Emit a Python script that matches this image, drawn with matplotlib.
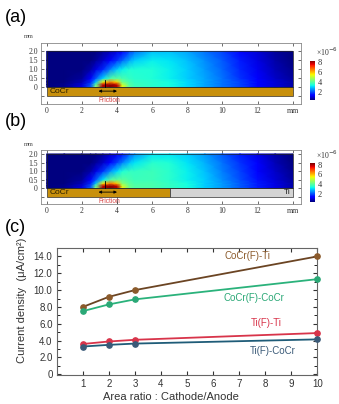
import numpy as np
import matplotlib.pyplot as plt
from matplotlib.patches import Rectangle

W, H = 339, 404

# field maps (a) and (b): current density (x1e-6)
grid_x = [0, 1, 2, 2.5, 2.8, 3.2, 3.6, 4.0, 4.3, 4.7, 5, 6, 7, 8, 9, 10, 11, 12, 13, 14]
grid_y = [0, 0.15, 0.3, 0.5, 1.0, 1.5, 2.0]

field_a = [
    [0.3, 0.4, 1.0, 2.0, 4.5, 8.0, 8.3, 8.0, 5.5, 4.0, 3.7, 3.5, 3.3, 3.0, 2.6, 2.2, 1.8, 1.3, 0.9, 0.6],
    [0.3, 0.4, 0.9, 1.9, 4.0, 7.8, 8.2, 7.8, 5.0, 3.9, 3.7, 3.5, 3.3, 3.0, 2.6, 2.2, 1.8, 1.3, 0.9, 0.6],
    [0.3, 0.3, 0.7, 1.6, 2.8, 5.5, 6.5, 5.8, 4.2, 3.8, 3.6, 3.5, 3.3, 3.0, 2.6, 2.2, 1.8, 1.3, 0.9, 0.6],
    [0.2, 0.3, 0.5, 1.2, 2.0, 3.0, 3.8, 4.0, 3.8, 3.6, 3.5, 3.4, 3.2, 2.9, 2.6, 2.2, 1.7, 1.2, 0.8, 0.5],
    [0.2, 0.2, 0.3, 0.6, 1.0, 1.6, 2.3, 2.9, 3.2, 3.4, 3.4, 3.4, 3.2, 2.9, 2.5, 2.1, 1.6, 1.1, 0.7, 0.4],
    [0.2, 0.2, 0.2, 0.3, 0.5, 0.8, 1.2, 1.7, 2.1, 2.6, 2.9, 3.2, 3.1, 2.8, 2.4, 2.0, 1.5, 1.0, 0.6, 0.3],
    [0.2, 0.2, 0.2, 0.2, 0.3, 0.5, 0.7, 1.0, 1.3, 1.8, 2.2, 2.8, 2.8, 2.6, 2.2, 1.8, 1.3, 0.9, 0.5, 0.3],
]
field_b = [
    [0.3, 0.4, 1.0, 2.0, 4.5, 8.0, 8.3, 8.0, 5.6, 4.2, 3.9, 3.8, 3.6, 3.3, 2.9, 2.5, 2.0, 1.5, 1.0, 0.6],
    [0.3, 0.4, 0.9, 1.9, 4.0, 7.8, 8.2, 7.8, 5.1, 4.1, 3.9, 3.8, 3.6, 3.3, 2.9, 2.5, 2.0, 1.5, 1.0, 0.6],
    [0.3, 0.3, 0.7, 1.6, 2.8, 5.6, 6.6, 5.9, 4.4, 4.0, 3.8, 3.8, 3.6, 3.3, 2.9, 2.5, 2.0, 1.5, 1.0, 0.6],
    [0.2, 0.3, 0.5, 1.2, 2.0, 3.1, 3.9, 4.1, 4.0, 3.8, 3.7, 3.7, 3.5, 3.2, 2.9, 2.4, 1.9, 1.4, 0.9, 0.5],
    [0.2, 0.2, 0.3, 0.6, 1.0, 1.7, 2.4, 3.0, 3.4, 3.6, 3.6, 3.7, 3.5, 3.2, 2.8, 2.3, 1.8, 1.3, 0.8, 0.4],
    [0.2, 0.2, 0.2, 0.3, 0.5, 0.8, 1.3, 1.8, 2.3, 2.8, 3.1, 3.5, 3.4, 3.1, 2.7, 2.2, 1.7, 1.2, 0.7, 0.3],
    [0.2, 0.2, 0.2, 0.2, 0.3, 0.5, 0.8, 1.1, 1.4, 2.0, 2.4, 3.1, 3.1, 2.9, 2.5, 2.0, 1.5, 1.0, 0.6, 0.3],
]

# substrate strips: name, start mm, end mm, colour
strip_a = [("CoCr", 0, 14, "#c8900c")]
strip_b = [("CoCr", 0, 7, "#c8900c"), ("Ti", 7, 14, "#d4d4d4")]

x_ticks_mm = [0, 2, 4, 6, 8, 10, 12, 14]
x_tick_labels_mm = ["0", "2", "4", "6", "8", "10", "12", "mm"]
y_ticks_mm = [-0.5, 0, 0.5, 1.0, 1.5, 2.0]
y_tick_labels_mm = ["", "0", "0.5", "1.0", "1.5", "2.0"]

# line chart (c)
area_ratio = [1, 2, 3, 10]
cocr_ti = [8.0, 9.2, 10.0, 14.0]
cocr_cocr = [7.5, 8.3, 8.9, 11.3]
ti_ti = [3.6, 3.9, 4.1, 4.9]
ti_cocr = [3.3, 3.5, 3.65, 4.15]


def box(l, t, r, b):
    return [l / W, 1 - b / H, (r - l) / W, (b - t) / H]


fig = plt.figure(figsize=(W / 100, H / 100), dpi=100)
serif = "Liberation Serif"
sans = "Liberation Sans"


def field_panel(axbox, cbbox, z, strips, ylim, mm_y, cb_title_y):
    ax = fig.add_axes(box(*axbox))
    mesh = ax.pcolormesh(grid_x, grid_y, np.array(z), shading="gouraud",
                         cmap="jet", vmin=0.3, vmax=8.3)
    ax.plot([0, 14, 14, 0, 0], [0, 0, 2, 2, 0], color="#222222", lw=0.5)
    for name, x0, x1, c in strips:
        ax.add_patch(Rectangle((x0, -0.5), x1 - x0, 0.5, facecolor=c,
                               edgecolor="#333333", lw=0.5))
        if name == "CoCr":
            ax.text(x0 + 0.15, -0.25, name, fontsize=6, family=sans,
                    color="#2a2000", ha="left", va="center")
        else:
            ax.text(x1 - 0.1, -0.25, name, fontsize=6, family=sans,
                    color="#222222", ha="right", va="center")
    ax.annotate("", xy=(2.95, -0.22), xytext=(4.0, -0.22),
                arrowprops=dict(arrowstyle="<|-|>", color="k", lw=0.6,
                                mutation_scale=4, shrinkA=0, shrinkB=0))
    ax.plot([3.3, 3.3], [0, 0.4], color="k", lw=0.6)
    ax.plot([4.0, 4.0], [-0.5, ylim[0]], color="#444444", lw=0.5)
    ax.text(3.55, -0.75, "Friction", color="#d84848", fontsize=4.8,
            family=sans, ha="center", va="center")
    ax.set_xlim(-0.34, 14.47)
    ax.set_ylim(*ylim)
    ax.set_xticks(x_ticks_mm)
    ax.set_xticklabels(x_tick_labels_mm)
    ax.set_yticks(y_ticks_mm)
    ax.set_yticklabels(y_tick_labels_mm)
    ax.tick_params(direction="in", top=True, right=True, length=2, width=0.5,
                   labelsize=5.5, pad=2, colors="#333333")
    for lab in ax.get_xticklabels() + ax.get_yticklabels():
        lab.set_family(serif)
    for s in ax.spines.values():
        s.set_color("#888888")
        s.set_linewidth(0.6)
    fig.text(29 / W, 1 - mm_y / H, "mm", fontsize=4.5, family=serif,
             color="#444444", ha="center", va="center")

    cax = fig.add_axes(box(*cbbox))
    cb = fig.colorbar(mesh, cax=cax, ticks=[2, 4, 6, 8])
    cb.outline.set_visible(False)
    cax.tick_params(length=0, labelsize=6, pad=2, colors="#333333")
    for lab in cax.get_yticklabels():
        lab.set_family(serif)
    fig.text(316 / W, 1 - cb_title_y / H, "×10$^{-6}$", fontsize=5.5,
             family=serif, color="#333333", ha="left", va="center")
    return ax


field_panel((40.7, 43, 301, 104), (310, 60.7, 315, 100), field_a, strip_a,
            (-0.94, 2.47), 37, 52)
field_panel((40.7, 150, 301, 204.3), (310, 163.3, 315, 201.7), field_b, strip_b,
            (-0.93, 2.23), 144, 155)

for lab, y in [("(a)", 18), ("(b)", 122), ("(c)", 227)]:
    fig.text(5 / W, 1 - y / H, lab, fontsize=13, family=sans, ha="left",
             va="center")

# panel (c)
ax = fig.add_axes(box(56.7, 248, 317.3, 375))
series = [
    (cocr_ti, "#6b4423", "#8b5a2b", "CoCr(F)-Ti", 7.3, 14.0),
    (cocr_cocr, "#2ab27b", "#2aa876", "CoCr(F)-CoCr", 7.55, 9.1),
    (ti_ti, "#d8344a", "#d8344a", "Ti(F)-Ti", 8.05, 6.1),
    (ti_cocr, "#1f5c78", "#3a5a78", "Ti(F)-CoCr", 8.3, 2.8),
]
for vals, lc, mc, name, tx, ty in series:
    ax.plot(area_ratio, vals, color=lc, lw=1.3, marker="o", markersize=3.8,
            markerfacecolor=mc, markeredgecolor=mc, clip_on=False, zorder=3)
    ax.text(tx, ty, name, color=mc, fontsize=7, family=sans, ha="center",
            va="center")
ax.set_xlim(0, 10)
ax.set_ylim(-0.08, 15.0)
ax.set_xticks(range(1, 11))
ax.set_yticks(range(0, 15, 2))
ax.set_yticklabels(["0"] + [f"{v:.1f}" for v in range(2, 15, 2)])
ax.set_yticks(range(1, 15, 2), minor=True)
ax.tick_params(direction="in", top=True, right=True, length=3, width=0.8,
               labelsize=7, colors="#333333", pad=3)
ax.tick_params(which="minor", direction="in", right=True, length=2, width=0.6)
for lab in ax.get_xticklabels() + ax.get_yticklabels():
    lab.set_family(sans)
for s in ax.spines.values():
    s.set_color("#666666")
    s.set_linewidth(0.8)
fig.text(22 / W, 1 - 300 / H, "Current density  (μA/cm²)", rotation=90,
         fontsize=8, family=sans, color="#333333", ha="center", va="center")
fig.text(171 / W, 1 - 397 / H, "Area ratio : Cathode/Anode", fontsize=8,
         family=sans, color="#333333", ha="center", va="center")

fig.savefig("out.png", dpi=100)
